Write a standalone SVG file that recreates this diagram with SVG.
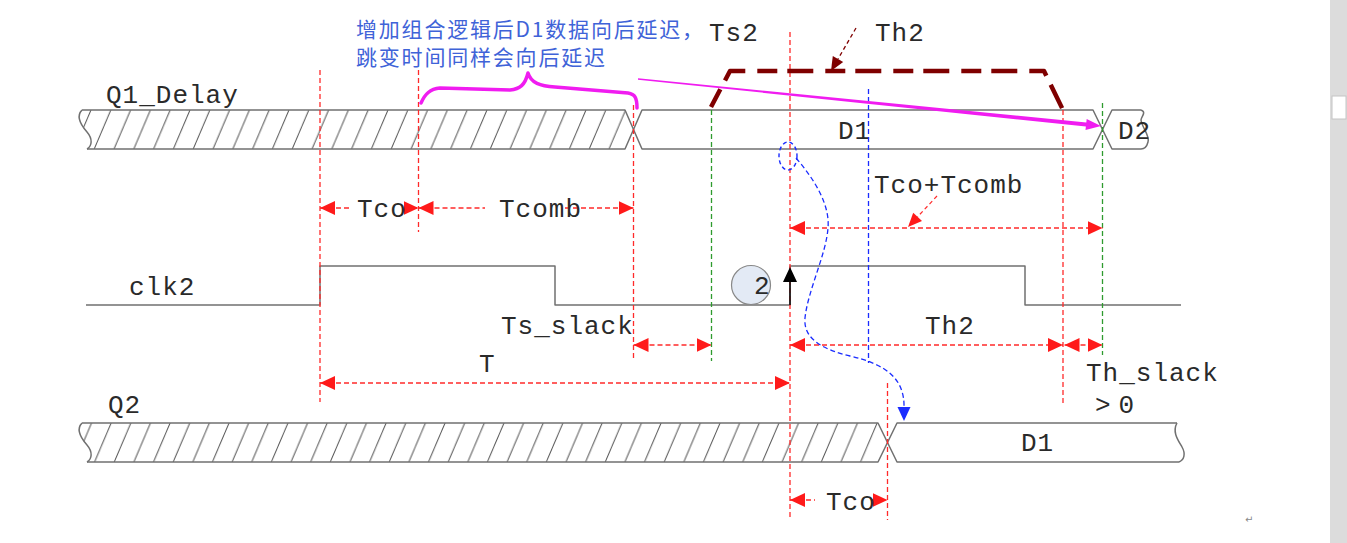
<svg xmlns="http://www.w3.org/2000/svg" width="1347" height="543" viewBox="0 0 1347 543">
<style>
.bus{fill:none;stroke:#707070;stroke-width:1.5;stroke-linejoin:round}
.rd{fill:none;stroke:#ff2a2a;stroke-width:1.3;stroke-dasharray:5 3}
.gd{fill:none;stroke:#2e9b2e;stroke-width:1.3;stroke-dasharray:5 3}
.bd{fill:none;stroke:#1a2cff;stroke-width:1.3;stroke-dasharray:5 3}
.dim{fill:none;stroke:#ff2a2a;stroke-width:1.3;stroke-dasharray:5 3;marker-start:url(#ah);marker-end:url(#ah)}
.dimS{fill:none;stroke:#ff2a2a;stroke-width:1.3;stroke-dasharray:5 3;marker-start:url(#ah)}
.dimE{fill:none;stroke:#ff2a2a;stroke-width:1.3;stroke-dasharray:5 3;marker-end:url(#ah)}
.lbl{font-family:"Liberation Mono",monospace;font-size:26px;letter-spacing:1px;fill:#2a2a2a}
.cn{font-family:"Noto Sans CJK SC",sans-serif;font-size:21px;letter-spacing:1.8px;fill:#3f63d8}
</style>
<defs>
<marker id="ah" viewBox="0 0 15 14" refX="15" refY="7" markerWidth="15" markerHeight="14" markerUnits="userSpaceOnUse" orient="auto-start-reverse">
<path d="M0,0 L15,7 L0,14 Z" fill="#ff1a1a" stroke="none"/>
</marker>
<pattern id="hq1" patternUnits="userSpaceOnUse" x="93" y="110" width="19.8" height="39">
<line x1="1" y1="39.5" x2="18" y2="-0.5" stroke="#555" stroke-width="1"/>
</pattern>
<pattern id="hq2" patternUnits="userSpaceOnUse" x="93.4" y="423" width="19.64" height="39">
<line x1="1" y1="39.5" x2="18" y2="-0.5" stroke="#555" stroke-width="1"/>
</pattern>
</defs>
<rect x="0" y="0" width="1347" height="543" fill="#ffffff"/>

<!-- scrollbar -->
<g id="scrollbar">
<rect x="1330" y="0" width="17" height="543" fill="#dcdcdc"/>
<rect x="1332" y="96" width="14" height="23" fill="#ffffff" stroke="#c4c4c4" stroke-width="1"/>
</g>

<!-- Q1_Delay signal -->
<g id="q1">
<path d="M82,110 L625,110 L633.5,129.5 L625,149 L87,149 C92,146 93,139 87,132 C80,124 76,116 82,110 Z" fill="url(#hq1)" stroke="none"/>
<path class="bus" d="M82,110 C76,116 80,124 87,132 C93,139 92,146 87,149"/>
<path class="bus" d="M82,110 L625,110 L642,149 L1093,149 L1112,110 L1141,110"/>
<path class="bus" d="M87,149 L625,149 L642,110 L1093,110 L1112,149 L1141,149"/>
<path class="bus" d="M1141,110 C1147,112 1141,117 1141,120 C1142,128 1150,135 1148,142 C1147,146 1145,149 1141,149"/>
<text class="lbl" x="106" y="103">Q1_Delay</text>
<text class="lbl" x="838" y="139">D1</text>
<text class="lbl" x="1118" y="139">D2</text>
</g>

<!-- clk2 signal -->
<g id="clk2">
<path class="bus" d="M86,305 L320,305 L320,266 L555,266 L555,305 L790,305 L790,266 L1025,266 L1025,305 L1181,305"/>
<text class="lbl" x="129" y="295">clk2</text>
</g>

<!-- Q2 signal -->
<g id="q2">
<path d="M82,423 L878,423 L887.5,442.5 L878,462 L87,462 C92,459 93,452 87,445 C80,437 76,429 82,423 Z" fill="url(#hq2)" stroke="none"/>
<path class="bus" d="M82,423 C76,429 80,437 87,445 C93,452 92,459 87,462"/>
<path class="bus" d="M82,423 L878,423 L897,462 L1179,462"/>
<path class="bus" d="M87,462 L878,462 L897,423 L1177,423"/>
<path class="bus" d="M1177,423 C1172,432 1178,440 1182,447 C1186,454 1184,460 1179,462"/>
<text class="lbl" x="108" y="413">Q2</text>
<text class="lbl" x="1021" y="451">D1</text>
</g>

<!-- edge marker circle -->
<g id="edge2">
<circle cx="751" cy="285" r="19.5" fill="#e3eaf5" stroke="#888" stroke-width="1.2"/>
<text class="lbl" x="754" y="294">2</text>
</g>

<!-- vertical guide lines -->
<g id="guides">
<line class="rd" x1="320" y1="70" x2="320" y2="402"/>
<line class="rd" x1="418.5" y1="70" x2="418.5" y2="232"/>
<line class="rd" x1="633.5" y1="105" x2="633.5" y2="360"/>
<line class="rd" x1="790" y1="32" x2="790" y2="520"/>
<line class="rd" x1="887.5" y1="383" x2="887.5" y2="520"/>
<line class="rd" x1="1063" y1="110" x2="1063" y2="403"/>
<line class="gd" x1="711.5" y1="110" x2="711.5" y2="361"/>
<line class="gd" x1="1102.5" y1="103" x2="1102.5" y2="355"/>
<line class="bd" x1="868.5" y1="89" x2="868.5" y2="363"/>
</g>

<!-- connectors -->
<g id="connectors">
<path class="dimS" d="M320,208 L350,208"/>
<path class="dimE" d="M404,208 L418.5,208"/>
<path class="dimS" d="M418.5,208 L485,208"/>
<path class="dimE" d="M565,208 L633.5,208"/>
<path class="dim" d="M790,228 L1102.5,228"/>
<path class="dim" d="M633.5,345 L711.5,345"/>
<path class="dim" d="M790,345 L1063,345"/>
<path class="dim" d="M1064.5,345 L1102.5,345"/>
<path class="dim" d="M320,383 L790,383"/>
<path class="dimS" d="M790,500 L815,500"/>
<path class="dimE" d="M872,500 L887.5,500"/>
<!-- Tco+Tcomb leader -->
<line x1="937" y1="196" x2="917.6" y2="216.8" stroke="#ff2a2a" stroke-width="1.2" stroke-dasharray="4 3"/>
<polygon points="908,227 913.2,212.7 922,220.9" fill="#ff1a1a"/>
<!-- clock edge arrow -->
<line x1="790" y1="279" x2="790" y2="305" stroke="#111" stroke-width="1.6"/>
<polygon points="790,267 783,282 797,282" fill="#000"/>
<!-- Ts2/Th2 window -->
<path d="M711,107 L730,71 L1044,71 L1063,110" fill="none" stroke="#7f0000" stroke-width="4.5" stroke-dasharray="20 10 26 12" stroke-linejoin="round"/>
<line x1="856" y1="28" x2="838" y2="59" stroke="#7f0000" stroke-width="1.3" stroke-dasharray="4 3"/>
<polygon points="831,71 832.8,55.9 843.2,61.9" fill="#7f0000"/>
<!-- magenta brace -->
<path d="M421,103 C425,94 430,89 440,88 L510,90 C520,89 525,85 528,73 C531,83 540,86 555,87 L628,93 C635,94 637,98 637,108" fill="none" stroke="#f01cf0" stroke-width="3.5" stroke-linecap="round" stroke-linejoin="round"/>
<!-- magenta arrow -->
<polygon points="638.07,78.3 1086.3,122.5 1086.7,119 1101,126 1085.5,130 1085.9,126.5 637.93,79.7" fill="#f01cf0"/>
<!-- blue path -->
<ellipse cx="788" cy="156" rx="9" ry="14" fill="none" stroke="#1a2cff" stroke-width="1.4" stroke-dasharray="4 3"/>
<path class="bd" d="M796,158 C815,180 830,205 828,228 C826,255 808,290 805,318 C803,340 825,350 850,356 C885,364 905,378 904,408" stroke-width="1.5"/>
<polygon points="904,421 897.5,407 910.5,407" fill="#1a2cff"/>
</g>

<!-- labels -->
<g id="labels">
<text class="cn" x="356" y="37">增加组合逻辑后D1数据向后延迟，</text>
<text class="cn" x="356" y="65">跳变时间同样会向后延迟</text>
<text class="lbl" x="709" y="41">Ts2</text>
<text class="lbl" x="875" y="41">Th2</text>
<text class="lbl" x="357" y="217">Tco</text>
<text class="lbl" x="499" y="217">Tcomb</text>
<text class="lbl" x="874" y="193">Tco+Tcomb</text>
<text class="lbl" x="501" y="334">Ts_slack</text>
<text class="lbl" x="479" y="372">T</text>
<text class="lbl" x="925" y="334">Th2</text>
<text class="lbl" x="1086" y="381">Th_slack</text>
<text class="lbl" x="1095" y="413" style="letter-spacing:8px">&gt;0</text>
<text class="lbl" x="826" y="510">Tco</text>
<text x="1245" y="523" font-family="DejaVu Sans,sans-serif" font-size="10" fill="#888">↵</text>
</g>
</svg>
